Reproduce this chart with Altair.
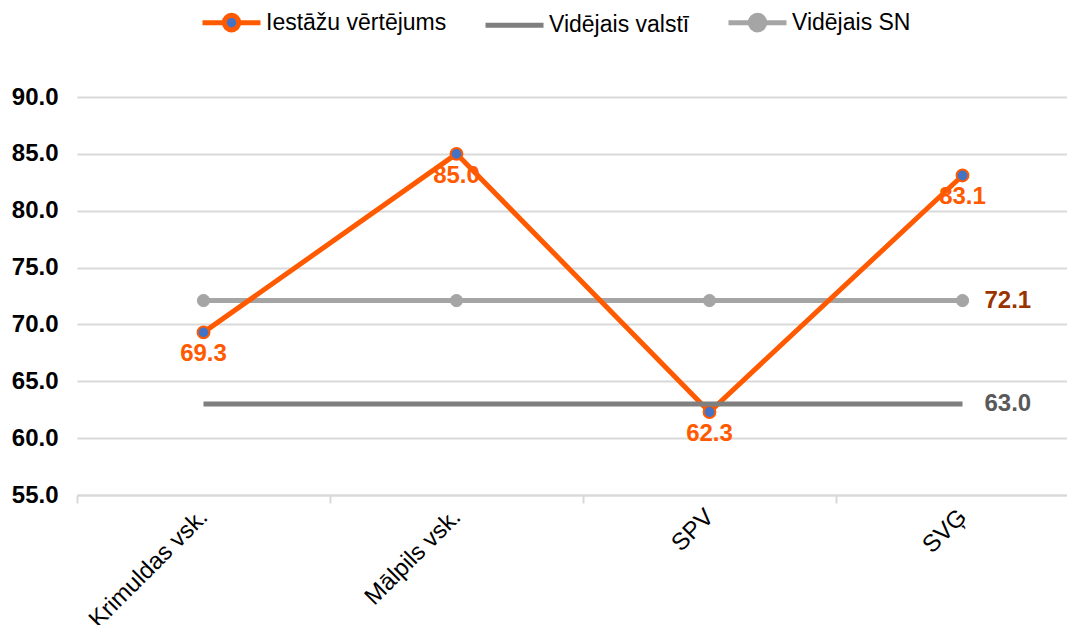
import altair as alt
import pandas as pd

categories = ["Krimuldas vsk.", "Mālpils vsk.", "SPV", "SVĢ"]
iestazu = [69.3, 85.0, 62.3, 83.1]
valsti = [63.0, 63.0, 63.0, 63.0]
sn = [72.1, 72.1, 72.1, 72.1]
series_names = ["Iestāžu vērtējums", "Vidējais valstī", "Vidējais SN"]
y_ticks = [55, 60, 65, 70, 75, 80, 85, 90]

FONT = "Liberation Sans"
ORANGE = "#FF5A00"
BLUE = "#4472C4"
DGRAY = "#7F7F7F"
LGRAY = "#A5A5A5"
GRID = "#D9D9D9"
FS = 24

rows = []
for name, vals in zip(series_names, [iestazu, valsti, sn]):
    for c, v in zip(categories, vals):
        rows.append({"cat": c, "value": v, "series": name})
df = pd.DataFrame(rows)

color_scale = alt.Scale(domain=series_names, range=[ORANGE, DGRAY, LGRAY])
fill_scale = alt.Scale(domain=series_names, range=[BLUE, DGRAY, LGRAY])
r = 0.25
circ = f"M{r},0A{r},{r},0,1,1,-{r},0A{r},{r},0,1,1,{r},0Z"
path_lc = f"M-1,0L-{r},0M{r},0L1,0" + circ
path_l = "M-1,0L1,0"
shape_scale = alt.Scale(domain=series_names, range=[path_lc, path_l, path_lc])

leg = alt.Legend(title=None, orient="none", legendX=123, legendY=-106, direction="horizontal",
                 symbolSize=3364, symbolStrokeWidth=5, symbolOpacity=1, labelFontSize=23,
                 labelFont=FONT, labelColor="black", columnPadding=28, labelOffset=3,
                 padding=0, labelLimit=400)

x = alt.X(
    "cat:N", sort=categories,
    scale=alt.Scale(type="band", domain=categories, range=[0, 1012], paddingInner=0, paddingOuter=0),
    axis=alt.Axis(title=None, labelAngle=315, labelAlign="right", labelBaseline="middle",
                  labelFontSize=FS, labelColor="black", labelFont=FONT, tickBand="extent",
                  domainColor=GRID, domainWidth=2, tickColor=GRID, tickWidth=2, tickSize=8,
                  labelPadding=10, grid=False),
)
y = alt.Y(
    "value:Q", scale=alt.Scale(domain=[55, 90]),
    axis=alt.Axis(values=y_ticks, format=".1f", title=None, labelFontSize=FS, labelFontWeight="bold",
                  labelColor="black", labelFont=FONT, ticks=False, domain=False, gridColor=GRID,
                  gridWidth=2, labelPadding=19),
)
col = alt.Color("series:N", scale=color_scale, legend=leg)
fil = alt.Fill("series:N", scale=fill_scale, legend=leg)

base = alt.Chart(df)

sn_line = base.transform_filter(alt.datum.series == series_names[2]).mark_line(strokeWidth=5).encode(x=x, y=y, color=col)
sn_pts = base.transform_filter(alt.datum.series == series_names[2]).mark_point(size=150, strokeWidth=1, opacity=1).encode(x=x, y=y, color=col, fill=fil)
or_line = base.transform_filter(alt.datum.series == series_names[0]).mark_line(strokeWidth=5).encode(x=x, y=y, color=col)
or_pts = base.transform_filter(alt.datum.series == series_names[0]).mark_point(size=140, strokeWidth=2, opacity=1).encode(x=x, y=y, color=col, fill=fil)
va_line = base.transform_filter(alt.datum.series == series_names[1]).mark_line(strokeWidth=5).encode(x=x, y=y, color=col)

or_txt = base.transform_filter(alt.datum.series == series_names[0]).mark_text(
    fontSize=FS, fontWeight="bold", font=FONT, dy=22, color=ORANGE
).encode(x=x, y=y, text=alt.Text("value:Q", format=".1f"))
sn_txt = base.transform_filter((alt.datum.series == series_names[2]) & (alt.datum.cat == categories[-1])).mark_text(
    fontSize=FS, fontWeight="bold", font=FONT, align="left", dx=22, color="#993300"
).encode(x=x, y=y, text=alt.Text("value:Q", format=".1f"))
va_txt = base.transform_filter((alt.datum.series == series_names[1]) & (alt.datum.cat == categories[-1])).mark_text(
    fontSize=FS, fontWeight="bold", font=FONT, align="left", dx=22, color="#595959"
).encode(x=x, y=y, text=alt.Text("value:Q", format=".1f"))

legend_df = pd.DataFrame({"series": series_names})
legend_layer = alt.Chart(legend_df).mark_point(opacity=0).encode(
    color=alt.Color("series:N", scale=color_scale, legend=leg),
    fill=alt.Fill("series:N", scale=fill_scale, legend=leg),
    shape=alt.Shape("series:N", scale=shape_scale, legend=leg),
)

chart = alt.layer(
    sn_line, sn_pts, or_line, or_pts, va_line, or_txt, sn_txt, va_txt, legend_layer
).properties(
    width=985, height=398,
    autosize=alt.AutoSizeParams(type="none"),
    padding={"left": 69, "top": 89, "right": 5, "bottom": 130},
).configure(font=FONT).configure_view(stroke=None)

chart.save("out.html", embed_options={"renderer": "svg", "actions": False})
